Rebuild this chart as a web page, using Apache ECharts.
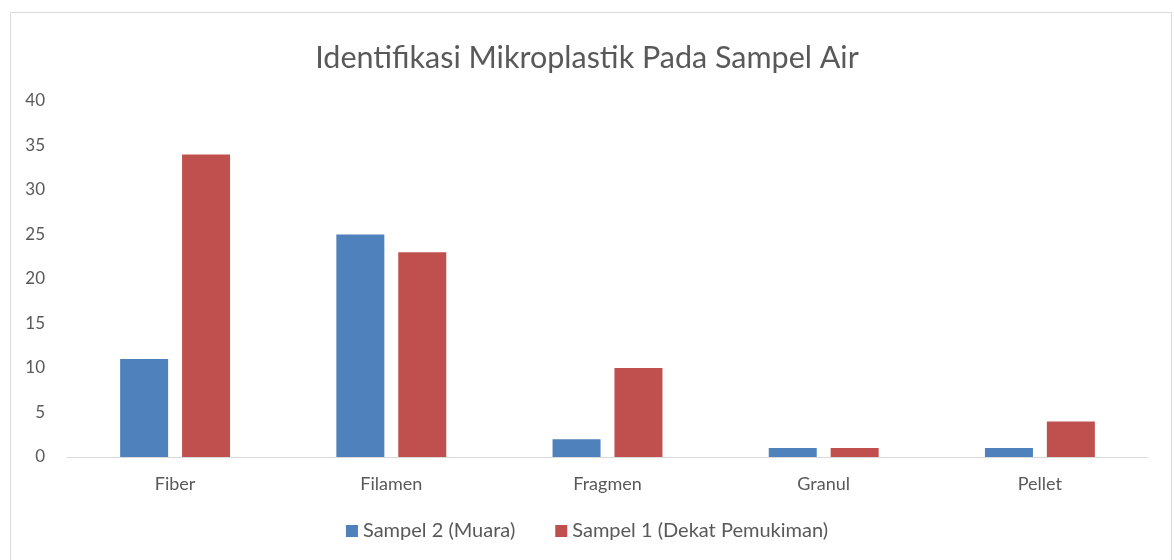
<!DOCTYPE html>
<html><head><meta charset="utf-8">
<script src="https://cdn.jsdelivr.net/npm/echarts@6/dist/echarts.min.js"></script>
<style>html,body{margin:0;padding:0;background:#fff}#c{width:1174px;height:560px}</style>
</head><body><div id="c"></div>
<script>
var categories = ["Fiber", "Filamen", "Fragmen", "Granul", "Pellet"];
var seriesNames = ["Sampel 2 (Muara)", "Sampel 1 (Dekat Pemukiman)"];
var sampel2 = [11, 25, 2, 1, 1];
var sampel1 = [34, 23, 10, 1, 4];
var chartTitle = "Identifikasi Mikroplastik Pada Sampel Air";

var font = "Lato, 'Open Sans', sans-serif";
var chart = echarts.init(document.getElementById('c'));
chart.setOption({
  animation: false,
  graphic: [{type:'rect', shape:{x:10.5, y:12.5, width:1161, height:560}, style:{fill:'none', stroke:'#d9d9d9', lineWidth:1}, silent:true}],
  title: {text: chartTitle, left: 'center', top: 38, textStyle:{fontFamily: font, fontSize: 30.5, fontWeight: 'normal', color:'#595959'}},
  legend: {top: 516, left: 'center', itemWidth: 12, itemHeight: 12, itemGap: 40, icon: 'rect',
    textStyle:{fontFamily: font, fontSize: 20, color:'#595959'}},
  grid: {left: 67, right: 26, top: 101, bottom: 103, containLabel: false},
  xAxis: {type:'category', data: categories,
    axisLine:{lineStyle:{color:'#d9d9d9'}}, axisTick:{show:false},
    axisLabel:{fontFamily: font, fontSize: 18, color:'#595959', margin: 18}},
  yAxis: {type:'value', min:0, max:40, interval:5,
    axisLine:{show:false}, axisTick:{show:false}, splitLine:{show:false},
    axisLabel:{fontFamily: font, fontSize: 17, color:'#595959', margin: 22}},
  series: [
    {name: seriesNames[0], type:'bar', data: sampel2, barWidth: 48, barGap: '29%', itemStyle:{color:'#4F81BD'}},
    {name: seriesNames[1], type:'bar', data: sampel1, barWidth: 48, itemStyle:{color:'#C0504D'}}
  ]
});
</script></body></html>
